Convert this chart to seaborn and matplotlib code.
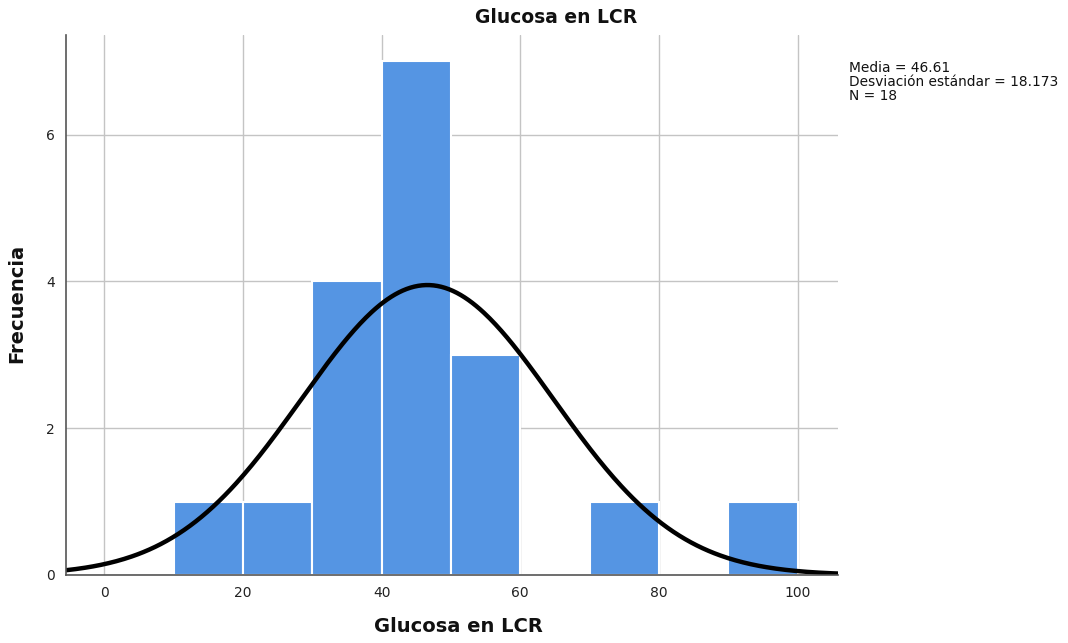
import numpy as np
import pandas as pd
import matplotlib
matplotlib.use("Agg")
import matplotlib.pyplot as plt
import seaborn as sns

# Histogram of glucose in CSF (bins of width 10)
bin_edges = [10, 20, 30, 40, 50, 60, 70, 80, 90, 100]
bin_counts = [1, 1, 4, 7, 3, 0, 1, 0, 1]
x_ticks = [0, 20, 40, 60, 80, 100]
y_ticks = [0, 2, 4, 6]
media = 46.61
desviacion = 18.173
n_total = 18

bin_centers = [(a + b) / 2 for a, b in zip(bin_edges[:-1], bin_edges[1:])]
df = pd.DataFrame({"glucosa": bin_centers, "frecuencia": bin_counts})

sns.set_style("white")
plt.rcParams["font.family"] = ["DejaVu Sans"]

fig = plt.figure(figsize=(10.68, 6.43), dpi=100)
ax = fig.add_axes([0.0618, 0.1058, 0.7228, 0.8398])

ax.set_axisbelow(True)
ax.grid(True, color="#c4c4c4", linewidth=1.0)

sns.histplot(data=df, x="glucosa", weights="frecuencia", bins=bin_edges,
             color="#5595e3", alpha=1.0, edgecolor="white", linewidth=1.5, ax=ax)

# Normal curve scaled to counts
xs = np.linspace(-5.5, 105.8, 400)
bw = bin_edges[1] - bin_edges[0]
ys = n_total * bw / (desviacion * np.sqrt(2 * np.pi)) * np.exp(-0.5 * ((xs - media) / desviacion) ** 2)
sns.lineplot(x=xs, y=ys, color="black", linewidth=3.2, ax=ax)

ax.set_xlim(-5.5, 105.8)
ax.set_ylim(0, 7.36)
ax.set_xticks(x_ticks)
ax.set_yticks(y_ticks)
ax.tick_params(axis="both", length=0, labelsize=10, colors="#222222", pad=8)

for side in ["top", "right"]:
    ax.spines[side].set_visible(False)
for side in ["left", "bottom"]:
    ax.spines[side].set_color("#555555")
    ax.spines[side].set_linewidth(1.2)

fig.text(0.5206, 0.973, "Glucosa en LCR", fontsize=13.5, fontweight="bold",
         ha="center", va="center", color="#111111")
ax.set_xlabel("Glucosa en LCR", fontsize=14, fontweight="bold", color="#111111")
ax.xaxis.set_label_coords(0.508, -0.078)
ax.set_ylabel("Frecuencia", fontsize=14, fontweight="bold", color="#111111")
ax.yaxis.set_label_coords(-0.052, 0.502)

fig.text(0.795, 0.905,
         f"Media = {media:.2f}\nDesviación estándar = {desviacion:.3f}\nN = {n_total}",
         fontsize=9.9, va="top", ha="left", linespacing=0.98, color="#111111")

fig.savefig("out.png", dpi=100)
